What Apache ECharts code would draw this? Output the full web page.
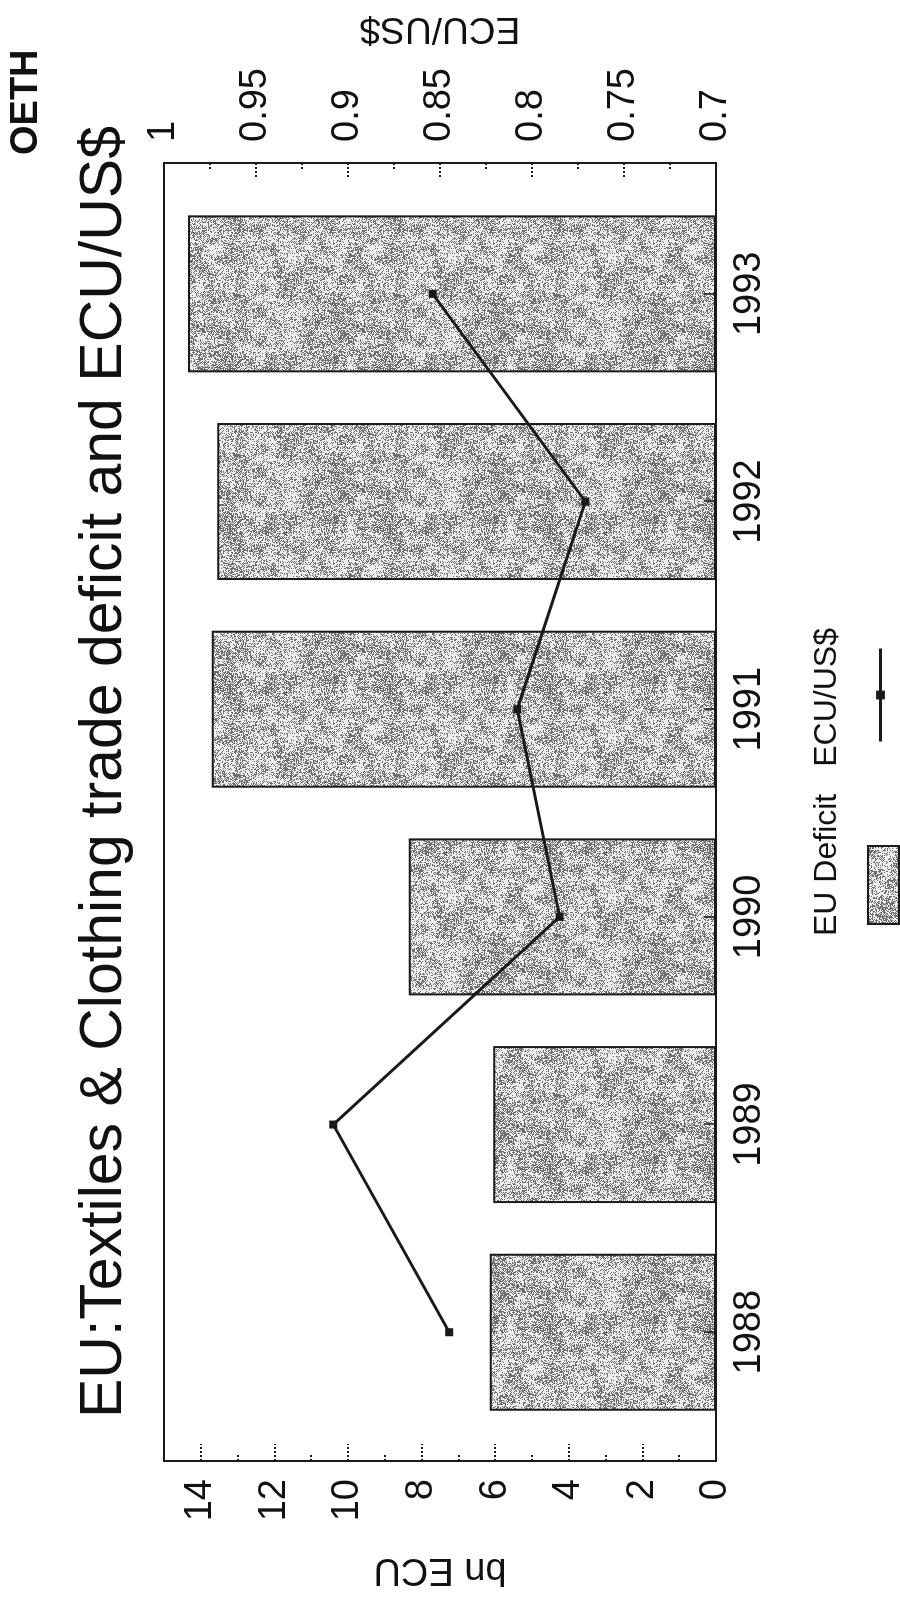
<!DOCTYPE html>
<html>
<head>
<meta charset="utf-8">
<script src="https://cdn.jsdelivr.net/npm/echarts@6/dist/echarts.min.js"></script>
<style>
html, body { margin: 0; padding: 0; background: #fff; overflow: hidden; width: 900px; height: 1600px; }
/* the scanned page is turned on its side, so draw landscape and turn it */
#chart { position: absolute; left: 0; top: 0; width: 1600px; height: 900px;
         transform-origin: 0 0; transform: translateY(1600px) rotate(-90deg); }
</style>
</head>
<body>
<div id="chart"></div>
<script>
const years = [1988, 1989, 1990, 1991, 1992, 1993];
const deficit = [6.15, 6.05, 8.35, 13.7, 13.55, 14.35];      // bn ECU
const ecuPerUsd = [0.845, 0.908, 0.785, 0.808, 0.771, 0.854]; // ECU/US$
const seriesNames = ['EU Deficit', 'ECU/US$'];

const font = 'Liberation Sans, Arial, sans-serif';
const ink = '#1a1a1a';

// grey photocopy stipple for the bars (texture only)
function hash(x, y) {
    let h = Math.imul(x, 374761393) + Math.imul(y, 668265263);
    h = Math.imul(h ^ (h >>> 13), 1274126177);
    h = h ^ (h >>> 16);
    return (h >>> 0) / 4294967295;
}
function makeStipple() {
    const n = 160, cell = 10, cells = n / cell;
    const c = document.createElement('canvas');
    c.width = n; c.height = n;
    const ctx = c.getContext('2d');
    const img = ctx.createImageData(n, n);
    const node = (i, j) => hash(((i % cells) + cells) % cells + 101, ((j % cells) + cells) % cells + 57);
    for (let y = 0; y < n; y++) {
        for (let x = 0; x < n; x++) {
            const gx = x / cell, gy = y / cell;
            const i = Math.floor(gx), j = Math.floor(gy);
            const fx = gx - i, fy = gy - j;
            const sx = fx * fx * (3 - 2 * fx), sy = fy * fy * (3 - 2 * fy);
            const a = node(i, j), b = node(i + 1, j), cc = node(i, j + 1), d = node(i + 1, j + 1);
            const blot = (a * (1 - sx) + b * sx) * (1 - sy) + (cc * (1 - sx) + d * sx) * sy;
            const pDark = 0.15 + 0.55 * blot;
            const checker = (x + y) % 2 === 0 ? 0.12 : -0.12;
            const dark = hash(x + 7, y + 13) < pDark + checker;
            const v = dark ? 110 : 238;
            const k = (y * n + x) * 4;
            img.data[k] = img.data[k + 1] = img.data[k + 2] = v;
            img.data[k + 3] = 255;
        }
    }
    ctx.putImageData(img, 0, 0);
    return c;
}
const stipple = { image: makeStipple(), repeat: 'repeat' };

const chart = echarts.init(document.getElementById('chart'));

const option = {
    animation: false,
    textStyle: { fontFamily: font, color: '#111' },
    title: [{
        text: 'EU:Textiles & Clothing trade deficit and ECU/US$',
        left: 182, top: 75, padding: 0,
        textStyle: { fontSize: 59, fontWeight: 'normal', color: '#111', fontFamily: font }
    }, {
        text: 'OETH',
        left: 1445, top: 8, padding: 0,
        textStyle: { fontSize: 38, fontWeight: 'bold', color: '#111', fontFamily: font }
    }],
    legend: [{
        data: [seriesNames[0]], left: 675, top: 867, padding: 0, icon: 'rect',
        itemWidth: 78, itemHeight: 31, formatter: () => '', selectedMode: false
    }, {
        data: [seriesNames[1]], left: 857, top: 875, padding: 0,
        itemWidth: 93, itemHeight: 11, formatter: () => '', selectedMode: false,
        lineStyle: { width: 3, color: ink }
    }, {
        data: seriesNames, left: 659, top: 811, padding: 0,
        icon: 'none', itemWidth: 0, itemHeight: 14, itemGap: 22, selectedMode: false,
        textStyle: { fontSize: 32, color: '#111', fontFamily: font }
    }],
    grid: {
        left: 139, top: 164, width: 1298, height: 552,
        show: true, borderColor: ink, borderWidth: 2, backgroundColor: '#fff'
    },
    xAxis: {
        type: 'value', min: 1987.38, max: 1993.63, z: 3,
        axisLine: { show: false },
        splitLine: { show: false },
        axisTick: { show: true, inside: true, length: 12, customValues: years, lineStyle: { color: ink, width: 1.5 } },
        axisLabel: { customValues: years, fontSize: 38, color: '#111', margin: 15, formatter: v => String(Math.round(v)) }
    },
    yAxis: [{
        type: 'value', min: 0, max: 15, interval: 2, position: 'left',
        name: 'bn ECU', nameLocation: 'middle', nameRotate: 90, nameGap: 89,
        nameTextStyle: { fontSize: 38, color: '#111' },
        axisLine: { show: false },
        splitLine: { show: false },
        axisTick: { show: true, inside: true, length: 17, lineStyle: { color: ink, width: 2, type: 'dotted' } },
        minorTick: { show: true, splitNumber: 2, length: 8, lineStyle: { color: ink, width: 2, type: 'dotted' } },
        axisLabel: { fontSize: 38, color: '#111', margin: 18, showMaxLabel: false }
    }, {
        type: 'value', min: 0.7, max: 1, interval: 0.05, position: 'right',
        name: 'ECU/US$', nameLocation: 'middle', nameRotate: 90, nameGap: 116,
        nameTextStyle: { fontSize: 37, color: '#111' },
        axisLine: { show: false },
        splitLine: { show: false },
        axisTick: { show: true, inside: true, length: 14, lineStyle: { color: ink, width: 2, type: 'dotted' } },
        minorTick: { show: true, splitNumber: 2, length: 7, lineStyle: { color: ink, width: 2, type: 'dotted' } },
        axisLabel: { fontSize: 38, color: '#111', margin: 21 }
    }],
    series: [{
        name: seriesNames[0],
        type: 'bar',
        barWidth: 157,
        data: years.map((y, i) => [y, deficit[i]]),
        itemStyle: { color: stipple, borderColor: ink, borderWidth: 2 }
    }, {
        name: seriesNames[1],
        type: 'line',
        yAxisIndex: 1,
        data: years.map((y, i) => [y, ecuPerUsd[i]]),
        symbol: 'rect', symbolSize: 8,
        lineStyle: { color: ink, width: 3 },
        itemStyle: { color: ink },
        z: 5
    }]
};

chart.setOption(option);
</script>
</body>
</html>
